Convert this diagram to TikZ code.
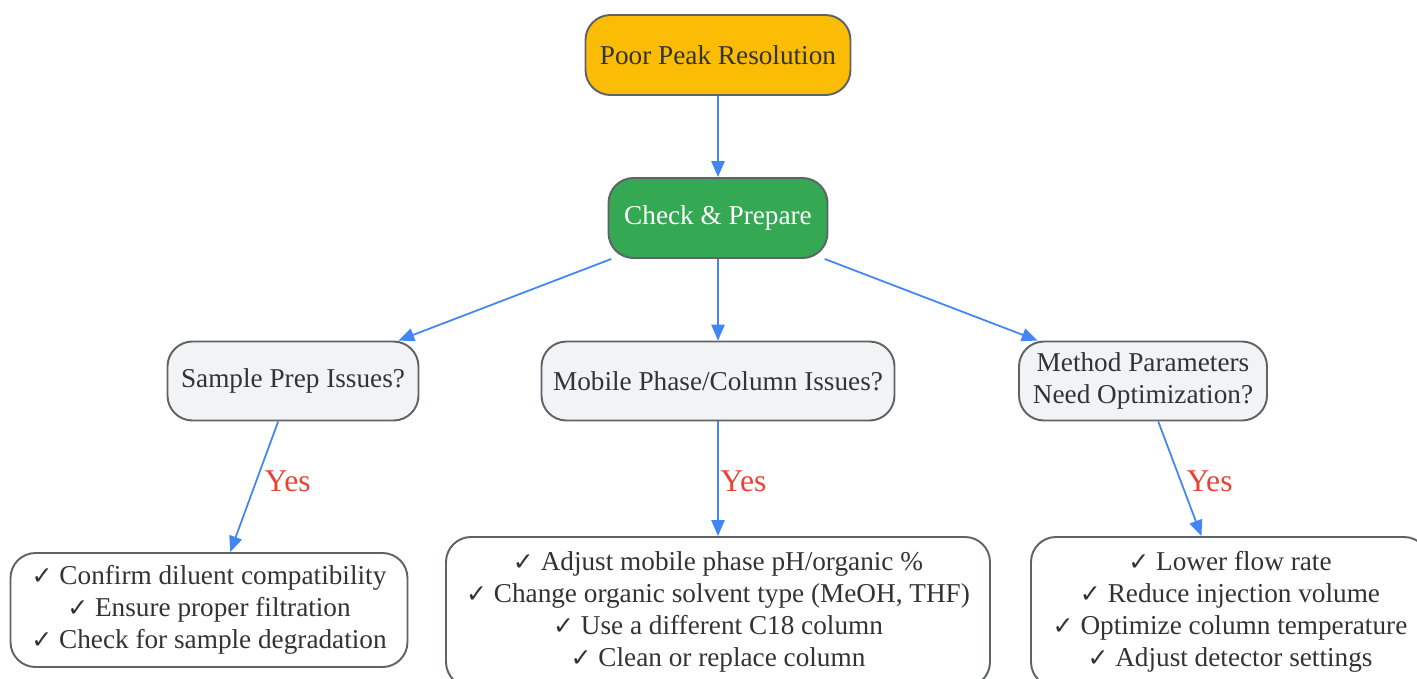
\documentclass[tikz,border=0pt]{standalone}
\usepackage{fontspec}
\setmainfont{Liberation Serif}
\newfontfamily\symfont{DejaVu Sans}[Scale=0.92]
\usetikzlibrary{arrows.meta}

\definecolor{peakgold}{HTML}{FBBC05}
\definecolor{prepgreen}{HTML}{34A853}
\definecolor{askgray}{HTML}{F1F3F4}
\definecolor{edgegray}{HTML}{5F6368}
\definecolor{inkgray}{HTML}{333333}
\definecolor{flowblue}{HTML}{4285F4}
\definecolor{yesred}{HTML}{EA4335}

\newcommand{\ok}{{\symfont ✓}\ }

\begin{document}
\begin{tikzpicture}[
		box/.style={draw=edgegray, line width=1.1pt, rounded corners=0.5cm, align=center,
			text=inkgray, font=\fontsize{15.5}{18.2}\selectfont, inner sep=0pt},
		ask/.style={box, fill=askgray, minimum height=1.58cm},
		fix/.style={box, fill=white, minimum height=3cm},
		flow/.style={draw=flowblue, line width=1pt, -{Triangle[length=9pt,width=7.5pt]}},
		yes/.style={text=yesred, anchor=west, font=\fontsize{18}{20}\selectfont}
	]
		\clip (0,0) rectangle (28.34,-13.56);
		\useasboundingbox (0,0) rectangle (28.34,-13.56);

		\node[box, fill=peakgold, minimum width=5.3cm, minimum height=1.6cm] (poor) at (14.36,-1.1) {Poor Peak Resolution};
		\node[box, fill=prepgreen, text=white, minimum width=4.38cm, minimum height=1.6cm] (check) at (14.36,-4.36) {Check \& Prepare};

		\node[ask, minimum width=5.02cm] (sample) at (5.86,-7.62) {Sample Prep Issues?};
		\node[ask, minimum width=7.06cm] (mobile) at (14.36,-7.62) {Mobile Phase/Column Issues?};
		\node[ask, minimum width=4.96cm] (method) at (22.86,-7.62) {Method Parameters\\Need Optimization?};

		\node[fix, minimum width=7.94cm, minimum height=2.28cm] (fixsample) at (4.18,-12.2)
			{\ok Confirm diluent compatibility\\\ok Ensure proper filtration\\\ok Check for sample degradation};
		\node[fix, minimum width=10.88cm] (fixmobile) at (14.36,-12.24)
			{\ok Adjust mobile phase pH/organic \%\\\ok Change organic solvent type (MeOH, THF)\\\ok Use a different C18 column\\\ok Clean or replace column};
		\node[fix, minimum width=7.96cm] (fixmethod) at (24.6,-12.24)
			{\ok Lower flow rate\\\ok Reduce injection volume\\\ok Optimize column temperature\\\ok Adjust detector settings};

		\draw[flow] (poor) -- (check);
		\draw[flow] (check) -- (sample);
		\draw[flow] (check) -- (mobile);
		\draw[flow] (check) -- (method);

		\draw[flow] (sample) -- node[yes, pos=0.46, xshift=1pt] {Yes} (fixsample);
		\draw[flow] (mobile) -- node[yes, pos=0.52, xshift=-2.5pt] {Yes} (fixmobile);
		\draw[flow] (method) -- node[yes, pos=0.52, xshift=-0.5pt] {Yes} (fixmethod);
	\end{tikzpicture}
\end{document}
